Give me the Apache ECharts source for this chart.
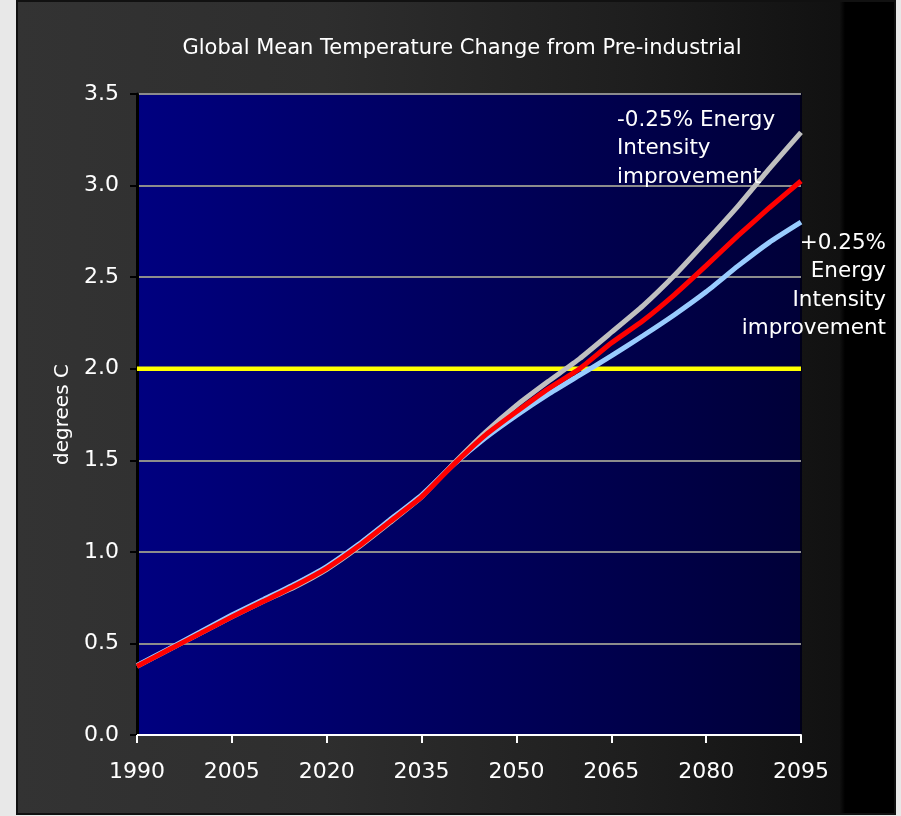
<!DOCTYPE html>
<html>
<head>
<meta charset="utf-8">
<script src="https://cdn.jsdelivr.net/npm/echarts@6/dist/echarts.min.js"></script>
<style>
  html, body { margin: 0; padding: 0; background: #e8e8e8; }
  #chart { width: 901px; height: 816px; }
</style>
</head>
<body>
<div id="chart"></div>
<script>
// Years on the horizontal axis (5-year steps)
var years = ['1990','1995','2000','2005','2010','2015','2020','2025','2030','2035','2040',
             '2045','2050','2055','2060','2065','2070','2075','2080','2085','2090','2095'];

// Temperature change (degrees C) for each scenario
var baseline = [0.375,0.465,0.555,0.645,0.730,0.815,0.910,1.030,1.165,1.300,1.475,
                1.635,1.765,1.890,2.000,2.140,2.262,2.405,2.563,2.725,2.879,3.025];
var slowerImprovement = [0.375,0.465,0.555,0.645,0.730,0.810,0.905,1.025,1.160,1.300,1.480,
                         1.650,1.800,1.930,2.055,2.198,2.343,2.510,2.696,2.887,3.093,3.290];
var fasterImprovement = [0.380,0.470,0.562,0.655,0.740,0.825,0.920,1.040,1.175,1.310,1.475,
                         1.620,1.745,1.860,1.965,2.070,2.180,2.295,2.420,2.560,2.690,2.800];
// 2 degree threshold
var thresholdLevel = 2.0;
var threshold = years.map(function () { return thresholdLevel; });

// Y axis ticks
var yMin = 0, yMax = 3.5, yStep = 0.5;

var chart = echarts.init(document.getElementById('chart'), null, { renderer: 'canvas' });

var FONT = '"DejaVu Sans", Verdana, sans-serif';

var option = {
  backgroundColor: '#e8e8e8',
  animation: false,
  title: {
    text: 'Global Mean Temperature Change from Pre-industrial',
    left: 457,
    top: 33,
    textAlign: 'center',
    textStyle: { color: '#ffffff', fontFamily: FONT, fontSize: 21, fontWeight: 'normal' }
  },
  graphic: [
    {
      // outer dark frame
      type: 'rect', z: -10, silent: true,
      shape: { x: 17, y: 1, width: 878, height: 813 },
      style: {
        fill: new echarts.graphic.LinearGradient(0, 0, 1, 0, [
          { offset: 0, color: '#333333' },
          { offset: 0.35, color: '#2e2e2e' },
          { offset: 0.70, color: '#1e1e1e' },
          { offset: 0.936, color: '#111111' },
          { offset: 0.942, color: '#000000' },
          { offset: 1, color: '#000000' }
        ]),
        stroke: '#111111', lineWidth: 2
      }
    },
    {
      type: 'text', x: 617, y: 106, z: 20,
      style: {
        text: '-0.25% Energy\nIntensity\nimprovement',
        fill: '#ffffff', font: '21.5px ' + FONT, lineHeight: 28.5, align: 'left'
      }
    },
    {
      type: 'text', x: 886, y: 229, z: 20,
      style: {
        text: '+0.25%\nEnergy\nIntensity\nimprovement',
        fill: '#ffffff', font: '21.5px ' + FONT, lineHeight: 28.5, align: 'right'
      }
    }
  ],
  grid: {
    left: 137, right: 100, top: 94, bottom: 81,
    show: true,
    backgroundColor: new echarts.graphic.LinearGradient(0, 0, 1, 0, [
      { offset: 0, color: '#000080' },
      { offset: 1, color: '#000038' }
    ]),
    borderColor: '#000018',
    borderWidth: 2
  },
  xAxis: {
    type: 'category',
    data: years,
    boundaryGap: false,
    axisLine: { show: true, lineStyle: { color: '#ffffff', width: 2 } },
    axisTick: { show: true, interval: 2, length: 8, lineStyle: { color: '#ffffff', width: 2 } },
    axisLabel: { interval: 2, color: '#ffffff', fontFamily: FONT, fontSize: 22, margin: 26 },
    splitLine: { show: false }
  },
  yAxis: {
    type: 'value',
    min: yMin, max: yMax, interval: yStep,
    name: 'degrees C',
    nameLocation: 'middle',
    nameRotate: 90,
    nameGap: 64,
    nameTextStyle: { color: '#ffffff', fontFamily: FONT, fontSize: 20 },
    axisLine: { show: true, lineStyle: { color: '#000000', width: 3 } },
    axisTick: { show: true, length: 7, lineStyle: { color: '#000000', width: 2 } },
    axisLabel: {
      color: '#ffffff', fontFamily: FONT, fontSize: 22, margin: 18,
      formatter: function (v) { return v.toFixed(1); }
    },
    splitLine: { show: true, lineStyle: { color: '#8c8c8c', width: 2 } }
  },
  series: [
    {
      name: '2 degree threshold', type: 'line', data: threshold,
      showSymbol: false, z: 2,
      lineStyle: { color: '#ffff00', width: 4.5 }
    },
    {
      name: '-0.25% Energy Intensity improvement', type: 'line', data: slowerImprovement,
      showSymbol: false, smooth: 0.15, z: 3,
      lineStyle: { color: '#c0c0c0', width: 5 }
    },
    {
      name: '+0.25% Energy Intensity improvement', type: 'line', data: fasterImprovement,
      showSymbol: false, smooth: 0.15, z: 4,
      lineStyle: { color: '#99ccff', width: 5 }
    },
    {
      name: 'Baseline', type: 'line', data: baseline,
      showSymbol: false, smooth: 0.15, z: 5,
      lineStyle: { color: '#ff0000', width: 5 }
    }
  ]
};

chart.setOption(option);
</script>
</body>
</html>
